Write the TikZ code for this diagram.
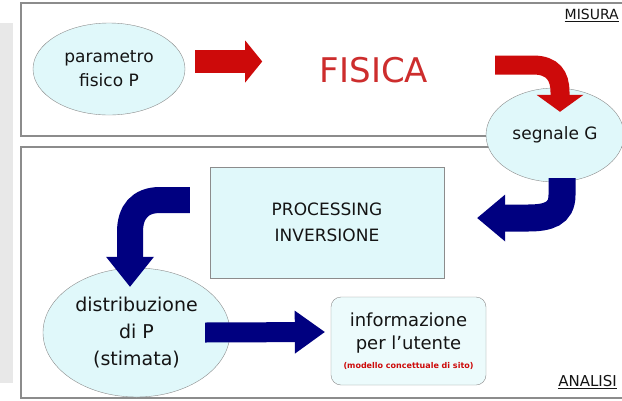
\documentclass[tikz,border=0pt]{standalone}
\usepackage{fontspec}
\setmainfont{DejaVu Sans}
\usetikzlibrary{shapes.geometric,arrows.meta,calc}

\definecolor{bordo}{RGB}{140,140,140}
\definecolor{celeste}{RGB}{224,248,250}
\definecolor{celestino}{RGB}{236,251,252}
\definecolor{striscia}{RGB}{232,232,232}
\definecolor{rosso}{RGB}{205,10,10}
\definecolor{rossotesto}{RGB}{205,45,45}
\definecolor{blu}{RGB}{0,0,128}
\definecolor{testo}{RGB}{20,20,20}

\tikzset{
  pannello/.style={draw=bordo, line width=1.5pt},
  bolla/.style={ellipse, draw=bordo, fill=celeste, inner sep=0pt, text=testo, align=center},
  scatola/.style={rectangle, draw=bordo, fill=celeste, inner sep=0pt, text=testo, align=center},
  etichetta/.style={text=testo, inner sep=0pt, font=\fontsize{14}{16}\selectfont},
  frossa/.style n args={3}{draw=rosso, line width=#1, -{Triangle[length=#2, width=#3, line width=0pt]}},
  fblu/.style n args={3}{draw=blu, line width=#1, -{Triangle[length=#2, width=#3, line width=0pt]}}
}

\begin{document}
\begin{tikzpicture}[x=1pt, y=-1pt]
    \clip (0,0) rectangle (622,400);
    \fill[white] (0,0) rectangle (622,400);

    % --- Striscia grigia a sinistra ---
    \fill[striscia] (0,23) rectangle (13,383);

    % --- Pannelli MISURA / ANALISI ---
    \draw[pannello] (21,3) rectangle (640,136);
    \draw[pannello] (21,147) rectangle (640,398);
    \node[etichetta, anchor=north east] (misura) at (619,9) {\underline{MISURA}};
    \node[etichetta, anchor=south east, font=\fontsize{15}{17}\selectfont] (analisi) at (617,389) {\underline{ANALISI}};

    % --- Nodi ---
    \node[bolla, minimum width=152pt, minimum height=92pt, font=\fontsize{17}{24}\selectfont]
        (par) at (109,69) {parametro\\fisico P};
    \node[text=rossotesto, font=\fontsize{34}{40}\selectfont] (fis) at (374,70) {FISICA};
    \node[bolla, minimum width=138pt, minimum height=94pt, font=\fontsize{17}{22}\selectfont]
        (sig) at (555,135) {segnale G};
    \node[scatola, minimum width=234pt, minimum height=111pt, font=\fontsize{17}{26}\selectfont]
        (proc) at (327,222.5) {PROCESSING\\INVERSIONE};
    \node[bolla, minimum width=187pt, minimum height=129pt, font=\fontsize{19}{27}\selectfont]
        (dist) at (136.5,332.5) {distribuzione\\di P\\(stimata)};
    \node[scatola, fill=celestino, rounded corners=10pt, minimum width=155pt, minimum height=88pt,
          font=\fontsize{18}{23}\selectfont]
        (info) at (408.5,341) {informazione\\per l'utente\\[-4pt]{\color{rosso}\bfseries\fontsize{8}{10}\selectfont (modello concettuale di sito)}};

    % --- Frecce rosse (fisica) ---
    \coordinate (r1a) at ($(par.east)+(10,-7.5)$);
    \coordinate (r1b) at ($(r1a)+(67,0)$);
    \draw[frossa={23pt}{17pt}{42pt}] (r1a) -- (r1b);

    \coordinate (r2a) at (495,65);
    \coordinate (r2b) at ($(sig.north)+(5,24)$);
    \draw[frossa={19pt}{17pt}{47pt}] (r2a) -- (533,65) .. controls (553,65) and (560,76) .. (560,92) -- (r2b);

    % --- Frecce blu (analisi) ---
    \coordinate (b1a) at ($(sig.south)+(7,-4)$);
    \coordinate (b1b) at ($(proc.east)+(33,-4.5)$);
    \draw[fblu={27pt}{28pt}{47pt}] (b1a) -- (562,195) .. controls (562,214) and (548,218) .. (528,218) -- (b1b);

    \coordinate (b2a) at ($(proc.west)+(-20,-22.5)$);
    \coordinate (b2b) at ($(dist.north)+(-6.5,19)$);
    \draw[fblu={26pt}{30pt}{48pt}] (b2a) -- (160,200) .. controls (140,200) and (130,212) .. (130,232) -- (b2b);

    \coordinate (b3a) at ($(dist.east)+(-25,0)$);
    \coordinate (b3b) at ($(info.west)+(-6,-9)$);
    \draw[fblu={20pt}{30pt}{43pt}] (b3a) -- (b3b);
\end{tikzpicture}
\end{document}
